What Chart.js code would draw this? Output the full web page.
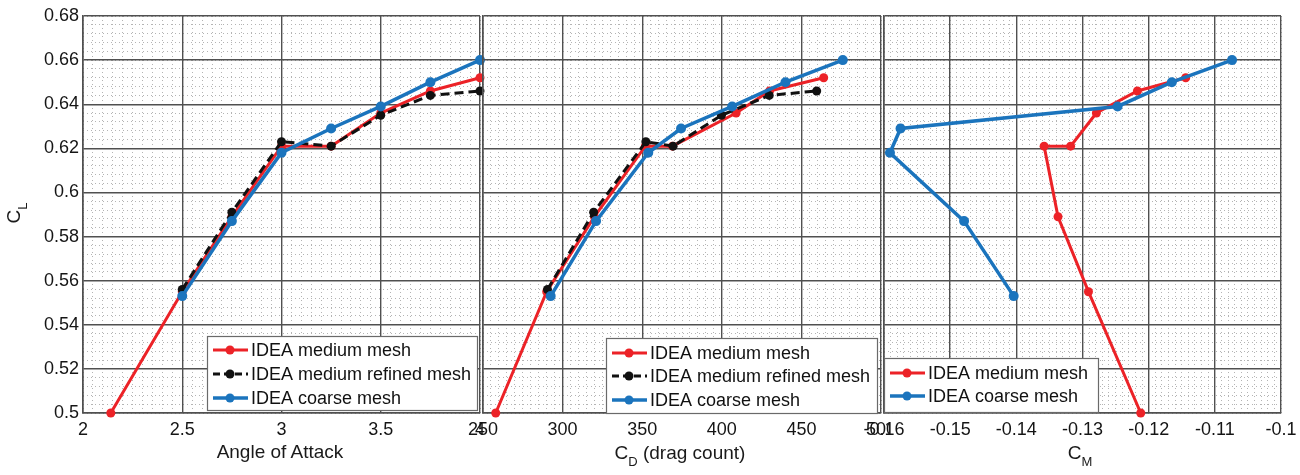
<!DOCTYPE html>
<html>
<head>
<meta charset="utf-8">
<title>IDEA mesh study — CL vs alpha, CD, CM</title>
<script src="https://cdn.jsdelivr.net/npm/chart.js@4.4.1/dist/chart.umd.min.js"></script>
<style>
  html, body { margin: 0; padding: 0; background: #fff; }
  #wrap { position: relative; width: 1300px; height: 475px; overflow: hidden; }
  canvas { position: absolute; top: 0; }
  .axis-title {
    position: absolute;
    font-family: "Liberation Sans", Arial, sans-serif;
    font-size: 19px;
    color: #1a1a1a;
    text-align: center;
    line-height: 24px;
    white-space: nowrap;
  }
  .sub { font-size: 13px; position: relative; top: 7px; }
</style>
</head>
<body>
<div id="wrap">
  <canvas id="c-alpha" width="490" height="475" style="left:0px"></canvas>
  <canvas id="c-drag"  width="450" height="475" style="left:440px"></canvas>
  <canvas id="c-mom"   width="460" height="475" style="left:840px"></canvas>

  <div class="axis-title" style="left:-5px;top:200px;width:40px;transform:rotate(-90deg)">C<span class="sub">L</span></div>
  <div class="axis-title" style="left:180px;top:440px;width:200px">Angle of Attack</div>
  <div class="axis-title" style="left:580px;top:441px;width:200px">C<span class="sub">D</span> (drag count)</div>
  <div class="axis-title" style="left:1030px;top:441px;width:100px">C<span class="sub">M</span></div>
</div>

<script>
// ── Data ───────────────────────────────────────────────────────────────────

const alphaMedium = [2.14, 2.5, 2.75, 3.0, 3.25, 3.5, 3.75, 4.0];
const clMedium    = [0.500, 0.555, 0.589, 0.621, 0.621, 0.636, 0.646, 0.652];
const cdMedium    = [258, 290, 320, 352, 369, 409, 430, 464];
const cmMedium    = [-0.1212, -0.1291, -0.1337, -0.1358, -0.1318, -0.1279, -0.1217, -0.1144];

const alphaRefined = [2.5, 2.75, 3.0, 3.25, 3.5, 3.75, 4.0];
const clRefined    = [0.556, 0.591, 0.623, 0.621, 0.635, 0.644, 0.646];
const cdRefined    = [290.5, 319.5, 352.3, 369.4, 399.8, 429.8, 459.6];

const alphaCoarse = [2.5, 2.75, 3.0, 3.25, 3.5, 3.75, 4.0];
const clCoarse    = [0.553, 0.587, 0.618, 0.629, 0.639, 0.650, 0.660];
const cdCoarse    = [292.5, 321, 353.8, 374.4, 406.5, 440, 476];
const cmCoarse    = [-0.1404, -0.1479, -0.1591, -0.1575, -0.1247, -0.1165, -0.1074];

const labelMedium  = "IDEA medium mesh";
const labelRefined = "IDEA medium refined mesh";
const labelCoarse  = "IDEA coarse mesh";

const clTicks = { min: 0.5, max: 0.68, step: 0.02, minor: 0.004 };

// ── Styling ─────────────────────────────────────────────────────────────────

const RED   = "#ec2227";
const BLACK = "#111111";
const BLUE  = "#1b74bd";
const FONT  = "'Liberation Sans', Arial, sans-serif";
const MAJOR = "#505050";
const MINOR = "#b4b4b4";

const pairs = (xs, ys) => xs.map((x, i) => ({ x, y: ys[i] }));
const fmt = v => String(Number(v.toFixed(4)));

function series(label, xs, ys, kind) {
  const color = kind === "medium" ? RED : kind === "refined" ? BLACK : BLUE;
  return {
    label,
    data: pairs(xs, ys),
    borderColor: color,
    backgroundColor: color,
    borderWidth: kind === "coarse" ? 3.5 : 3,
    borderDash: kind === "refined" ? [9, 5] : [],
    pointRadius: kind === "coarse" ? 5 : 4.5,
    pointHoverRadius: 5,
    pointBorderWidth: 0,
    tension: 0,
    clip: false,
    order: kind === "medium" ? 3 : kind === "refined" ? 2 : 1,
  };
}

// Legend drawn inside the plot box, line sample + marker like MATLAB
const boxLegend = {
  id: "boxLegend",
  afterDatasetsDraw(chart, args, opts) {
    if (!opts || !opts.rows) return;
    const ctx = chart.ctx;
    const { x, y, w, h, rows } = opts;
    ctx.save();
    ctx.setLineDash([]);
    ctx.fillStyle = "#fff";
    ctx.fillRect(x, y, w, h);
    ctx.strokeStyle = "#6a6a6a";
    ctx.lineWidth = 1.2;
    ctx.strokeRect(x + 0.5, y + 0.5, w, h);
    ctx.font = `18px ${FONT}`;
    ctx.textBaseline = "middle";
    chart.data.datasets.forEach((ds, i) => {
      const cy = rows[i];
      ctx.strokeStyle = ds.borderColor;
      ctx.lineWidth = ds.borderWidth;
      ctx.setLineDash(ds.borderDash.length ? [7, 4] : []);
      ctx.beginPath();
      ctx.moveTo(x + 6, cy);
      ctx.lineTo(x + 41, cy);
      ctx.stroke();
      ctx.setLineDash([]);
      ctx.fillStyle = ds.backgroundColor;
      ctx.beginPath();
      ctx.arc(x + 23, cy, 4.5, 0, Math.PI * 2);
      ctx.fill();
      ctx.fillStyle = "#111";
      ctx.fillText(ds.label, x + 44, cy + 1);
    });
    ctx.restore();
  }
};

// ── Panel builder ───────────────────────────────────────────────────────────

function makePanel(canvasId, p) {
  const fixW = w => s => { s.width = w; s.paddingTop = 0; s.paddingBottom = 0; };
  const fixH = h => s => { s.height = h; s.paddingLeft = 0; s.paddingRight = 0; };

  return new Chart(document.getElementById(canvasId), {
    type: "line",
    data: { datasets: p.datasets },
    options: {
      responsive: false,
      animation: false,
      events: [],
      layout: { padding: { left: p.padLeft, right: p.padRight, top: 16, bottom: 0 } },
      plugins: {
        legend: { display: false },
        tooltip: { enabled: false },
        boxLegend: p.legend,
      },
      scales: {
        // dotted minor grid, no labels, takes no room
        xm: {
          type: "linear", position: "bottom", min: p.x.min, max: p.x.max, z: -1,
          ticks: { display: false, stepSize: p.x.minor },
          grid: { color: MINOR, lineWidth: 1, drawTicks: false },
          border: { display: false, dash: [1, 3] },
          afterFit: fixH(0),
        },
        ym: {
          type: "linear", position: "left", min: clTicks.min, max: clTicks.max, z: -1,
          ticks: { display: false, stepSize: clTicks.minor },
          grid: { color: MINOR, lineWidth: 1, drawTicks: false },
          border: { display: false, dash: [1, 3] },
          afterFit: fixW(0),
        },
        x: {
          type: "linear", position: "bottom", min: p.x.min, max: p.x.max,
          ticks: {
            stepSize: p.x.step, color: "#151515", padding: 6, autoSkip: false,
            maxRotation: 0, font: { family: FONT, size: 18 }, callback: v => fmt(v),
          },
          grid: { color: MAJOR, lineWidth: 1.4, drawTicks: false },
          border: { color: MAJOR, width: 1.6 },
          afterFit: fixH(62),
        },
        y: {
          type: "linear", position: "left", min: clTicks.min, max: clTicks.max,
          ticks: {
            display: p.showY, stepSize: clTicks.step, color: "#151515", padding: 4,
            font: { family: FONT, size: 18 }, callback: v => fmt(v),
          },
          grid: { color: MAJOR, lineWidth: 1.4, drawTicks: false },
          border: { color: MAJOR, width: 1.6 },
          afterFit: fixW(p.yWidth),
        },
      },
    },
    plugins: [boxLegend],
  });
}

// ── Panels ──────────────────────────────────────────────────────────────────

makePanel("c-alpha", {
  padLeft: 0, padRight: 10, yWidth: 83, showY: true,
  x: { min: 2, max: 4, step: 0.5, minor: 0.05 },
  datasets: [
    series(labelMedium,  alphaMedium,  clMedium,  "medium"),
    series(labelRefined, alphaRefined, clRefined, "refined"),
    series(labelCoarse,  alphaCoarse,  clCoarse,  "coarse"),
  ],
  legend: { x: 207, y: 336, w: 270, h: 74, rows: [350, 374, 398] },
});

makePanel("c-drag", {
  padLeft: 43, padRight: 9, yWidth: 0, showY: false,
  x: { min: 250, max: 500, step: 50, minor: 5 },
  datasets: [
    series(labelMedium,  cdMedium,  clMedium,  "medium"),
    series(labelRefined, cdRefined, clRefined, "refined"),
    series(labelCoarse,  cdCoarse,  clCoarse,  "coarse"),
  ],
  legend: { x: 166, y: 338, w: 271, h: 75, rows: [353, 376, 400] },
});

makePanel("c-mom", {
  padLeft: 44, padRight: 19, yWidth: 0, showY: false,
  x: { min: -0.16, max: -0.1, step: 0.01, minor: 0.001 },
  datasets: [
    series(labelMedium, cmMedium, clMedium, "medium"),
    series(labelCoarse, cmCoarse, clCoarse, "coarse"),
  ],
  legend: { x: 44, y: 358, w: 214, h: 54, rows: [373, 396] },
});
</script>
</body>
</html>
